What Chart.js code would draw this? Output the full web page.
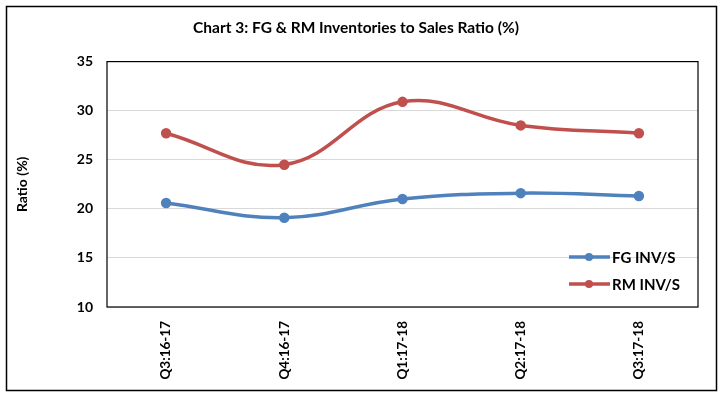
<!DOCTYPE html>
<html>
<head>
<meta charset="utf-8">
<script src="https://cdn.jsdelivr.net/npm/chart.js@4"></script>
<style>
  html, body { margin: 0; padding: 0; background: #fff; }
  #wrap { position: relative; width: 723px; height: 397px; }
</style>
</head>
<body>
<div id="wrap"><canvas id="ratioChart" width="723" height="397"></canvas></div>
<script>
const quarters = ['Q3:16-17', 'Q4:16-17', 'Q1:17-18', 'Q2:17-18', 'Q3:17-18'];
const fgInvS = [20.6, 19.1, 21.0, 21.6, 21.3];
const rmInvS = [27.7, 24.5, 30.9, 28.5, 27.7];
const yTicks = [10, 15, 20, 25, 30, 35];

const FONT = 'Lato, "Open Sans", sans-serif';

// frame round the whole picture and round the plot area
const boxes = {
    id: 'boxes',
    afterDraw(chart) {
        const ctx = chart.ctx;
        const a = chart.chartArea;
        ctx.save();
        ctx.strokeStyle = '#000';
        ctx.lineWidth = 1.5;
        ctx.strokeRect(6.5, 6.5, chart.width - 13, chart.height - 13);
        ctx.lineWidth = 1.2;
        ctx.strokeRect(a.left, a.top, a.right - a.left, a.bottom - a.top);
        ctx.restore();
    }
};

// legend sits inside the plot, lower right
const innerLegend = {
    id: 'innerLegend',
    afterDatasetsDraw(chart) {
        const ctx = chart.ctx;
        const a = chart.chartArea;
        ctx.save();
        ctx.font = 'bold 15px ' + FONT;
        ctx.textBaseline = 'middle';
        chart.data.datasets.forEach((ds, i) => {
            const y = a.bottom - 50 + i * 27;
            const x0 = a.right - 129;
            ctx.strokeStyle = ds.borderColor;
            ctx.lineWidth = 3.5;
            ctx.beginPath();
            ctx.moveTo(x0, y);
            ctx.lineTo(x0 + 41, y);
            ctx.stroke();
            ctx.fillStyle = ds.borderColor;
            ctx.beginPath();
            ctx.arc(x0 + 20, y, 4, 0, Math.PI * 2);
            ctx.fill();
            ctx.fillStyle = '#000';
            ctx.fillText(ds.label, x0 + 43, y + 1);
        });
        ctx.restore();
    }
};

new Chart(document.getElementById('ratioChart'), {
    type: 'line',
    data: {
        labels: quarters,
        datasets: [
            {
                label: 'FG INV/S',
                data: fgInvS,
                borderColor: '#4f81bd',
                backgroundColor: '#4f81bd',
                borderWidth: 3.5,
                pointRadius: 3.5,
                tension: 0.4
            },
            {
                label: 'RM INV/S',
                data: rmInvS,
                borderColor: '#c0504d',
                backgroundColor: '#c0504d',
                borderWidth: 3.5,
                pointRadius: 3.5,
                tension: 0.4
            }
        ]
    },
    options: {
        responsive: false,
        animation: false,
        layout: { padding: { left: 14, right: 25, top: 0, bottom: 0 } },
        plugins: {
            legend: { display: false },
            tooltip: { enabled: false },
            title: {
                display: true,
                text: 'Chart 3: FG & RM Inventories to Sales Ratio (%)',
                color: '#000',
                font: { family: FONT, size: 15.5, weight: 'bold' },
                padding: { top: 19, bottom: 24 }
            }
        },
        scales: {
            x: {
                offset: true,
                grid: { display: false },
                border: { display: false },
                ticks: {
                    color: '#000',
                    font: { family: FONT, size: 13.5, weight: 'bold' },
                    minRotation: 90,
                    maxRotation: 90,
                    padding: 6
                },
                afterFit: s => { s.height = 90; }
            },
            y: {
                min: 10,
                max: 35,
                afterBuildTicks: s => { s.ticks = yTicks.map(v => ({ value: v })); },
                grid: { color: '#d9d9d9', lineWidth: 1, drawTicks: false },
                border: { display: false },
                ticks: {
                    color: '#000',
                    font: { family: FONT, size: 14, weight: 'bold' },
                    padding: 14
                },
                title: {
                    display: true,
                    text: 'Ratio (%)',
                    color: '#000',
                    font: { family: FONT, size: 14, weight: 'bold' },
                    padding: { top: 0, bottom: 0 }
                },
                afterFit: s => { s.width = 93; }
            }
        }
    },
    plugins: [boxes, innerLegend]
});
</script>
</body>
</html>
